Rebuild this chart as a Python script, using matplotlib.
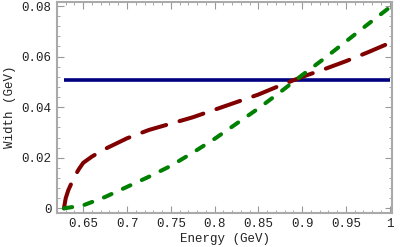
import numpy as np
import matplotlib
matplotlib.use('Agg')
import matplotlib.pyplot as plt
from matplotlib.ticker import MultipleLocator

plt.rcParams['font.family'] = ['Liberation Mono', 'DejaVu Sans Mono']
plt.rcParams['lines.scale_dashes'] = False

# widths
e_red = [0.628, 0.630, 0.633, 0.636, 0.640, 0.645, 0.650, 0.660, 0.675, 0.700,
         0.725, 0.750, 0.775, 0.800, 0.825, 0.850, 0.875, 0.900, 0.925, 0.950,
         0.975, 1.000]
w_red = [0.0, 0.0040, 0.0072, 0.0095, 0.0125, 0.0155, 0.0180, 0.0205, 0.0235, 0.0277,
         0.0310, 0.0335, 0.0360, 0.0390, 0.0420, 0.0450, 0.0486, 0.0520, 0.0550, 0.0582,
         0.0617, 0.0654]

e_green = [0.628, 0.650, 0.675, 0.700, 0.725, 0.750, 0.775, 0.800, 0.825, 0.850,
           0.875, 0.900, 0.925, 0.950, 0.975, 1.000]
w_green = [0.0, 0.0012, 0.0045, 0.0085, 0.0125, 0.0168, 0.0220, 0.0275, 0.0335, 0.0395,
           0.0460, 0.0527, 0.0592, 0.0660, 0.0728, 0.0795]

e_blue = [0.628, 1.000]
w_blue = [0.0507, 0.0507]

xticks = [0.65, 0.7, 0.75, 0.8, 0.85, 0.9, 0.95, 1.0]
xlabels = ['0.65', '0.7', '0.75', '0.8', '0.85', '0.9', '0.95', '1']
yticks = [0, 0.02, 0.04, 0.06, 0.08]
ylabels = ['0', '0.02', '0.04', '0.06', '0.08']

fig = plt.figure(figsize=(4, 2.47), dpi=100)
ax = fig.add_axes([0.143, 0.139, 0.838, 0.854])

ax.plot(e_blue, w_blue, color='#000080', lw=2.6, solid_capstyle='butt')
ax.plot(e_red, w_red, color='#800000', lw=2.9, dashes=(18, 10), dash_capstyle='round')
ax.plot(e_green, w_green, color='#008000', lw=2.9, dashes=(6, 9), dash_capstyle='round')

ax.set_xlim(0.6203, 1.003)
ax.set_ylim(-0.0017, 0.0817)
ax.set_xticks(xticks, xlabels)
ax.set_yticks(yticks, ylabels)
ax.xaxis.set_minor_locator(MultipleLocator(0.01))
ax.yaxis.set_minor_locator(MultipleLocator(0.004))
ax.tick_params(which='both', direction='in', top=True, right=True, color='#999999',
               labelsize=9, labelcolor='#222222')
ax.tick_params(which='major', length=5, width=0.8, pad=4)
ax.tick_params(which='minor', length=2.5, width=0.6)
for s in ax.spines.values():
    s.set_color('#aaaaaa')
    s.set_linewidth(1.5)

ax.set_xlabel('Energy (GeV)', fontsize=9, color='#222222', labelpad=2)
ax.set_ylabel('Width (GeV)', fontsize=9, color='#222222', labelpad=4)

fig.savefig('out.png', dpi=100)
